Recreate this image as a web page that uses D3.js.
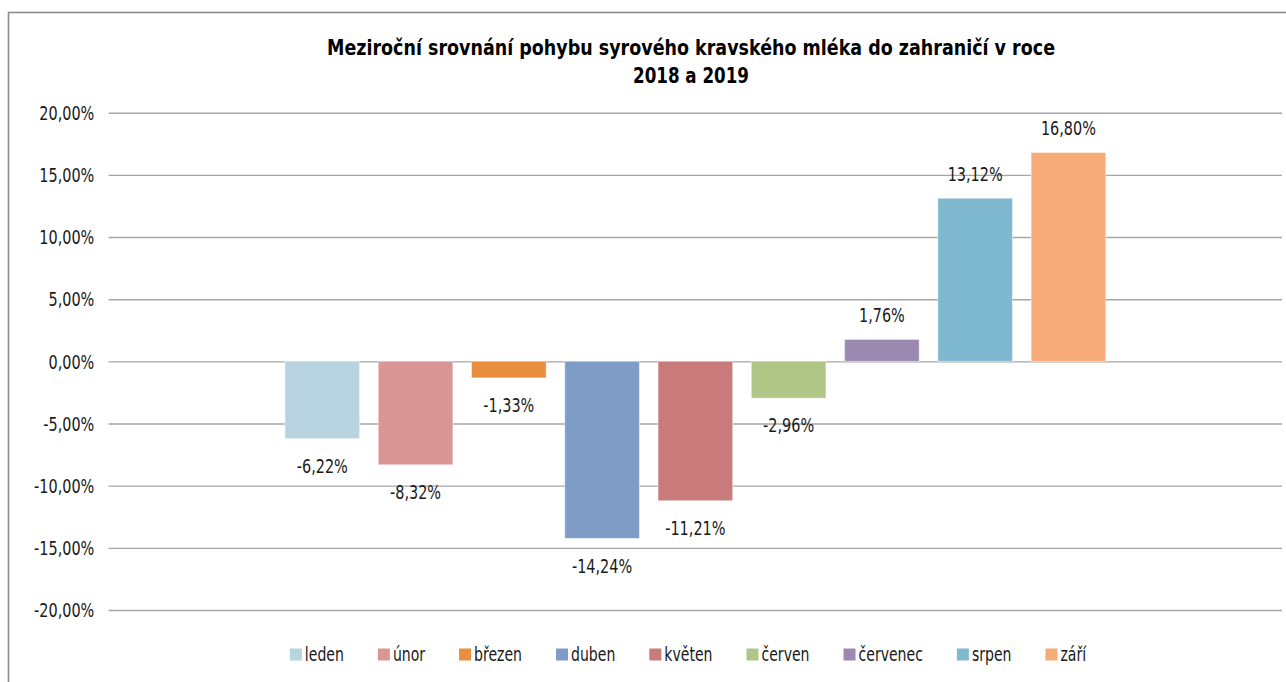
<!DOCTYPE html>
<html>
<head>
<meta charset="utf-8">
<script src="https://cdn.jsdelivr.net/npm/d3@7"></script>
<style>
	body { margin: 0; background: #fff; }
	svg { display: block; }
	.chart text { font-family: "DejaVu Sans", sans-serif; fill: #1a1a1a; }
</style>
</head>
<body>
<div id="chart"></div>
<script>
// meziroční srovnání - data
const months = ['leden', 'únor', 'březen', 'duben', 'květen', 'červen', 'červenec', 'srpen', 'září'];
const values = [-6.22, -8.32, -1.33, -14.24, -11.21, -2.96, 1.76, 13.12, 16.80];
const colors = ['#b7d4e0', '#da9694', '#e98d3f', '#7f9cc6', '#c87b7a', '#afc687', '#9c89b2', '#7eb9cf', '#f7ab78'];
const yTicks = [-20, -15, -10, -5, 0, 5, 10, 15, 20];
const titleLines = ['Meziroční srovnání pohybu syrového kravského mléka do zahraničí v roce', '2018 a 2019'];

const width = 1286, height = 682;
const m = {top: 112.7, bottom: 72, left: 108.7, right: 4};
const sx = 0.76; // horizontal squeeze of the narrow Excel-like font
const fontSize = '19px';

const svg = d3.select('#chart').append('svg')
	.attr('class', 'chart')
	.attr('width', width)
	.attr('height', height);

// outer chart border (right/bottom fall outside the picture)
svg.append('rect')
	.attr('x', 8.5).attr('y', 12.5)
	.attr('width', width + 20).attr('height', height + 20)
	.attr('fill', 'none')
	.attr('stroke', '#8c8c8c')
	.attr('stroke-width', 1.6);

const locale = d3.formatLocale({decimal: ',', thousands: ' ', grouping: [3], currency: ['', ''], minus: '-'});
const fmt = v => locale.format('.2f')(v) + '%';

const x = d3.scaleBand()
	.domain(months)
	.range([m.left, width - m.right])
	.paddingInner(0.2)
	.paddingOuter(1.89);

const y = d3.scaleLinear()
	.domain([-20, 20])
	.range([610, m.top]);

// title
const titleWidths = [728, 116];
svg.append('g').selectAll('text')
	.data(titleLines)
	.join('text')
		.attr('x', 691)
		.attr('y', (d, i) => 55 + i * 28)
		.attr('text-anchor', 'middle')
		.attr('textLength', (d, i) => titleWidths[i])
		.attr('lengthAdjust', 'spacingAndGlyphs')
		.style('font-weight', 'bold')
		.style('font-size', '22px')
		.style('fill', '#000')
		.text(d => d);

// y axis + grid
const yAxis = svg.append('g')
	.attr('transform', 'translate(' + m.left + ',0)')
	.call(d3.axisLeft(y)
		.tickValues(yTicks)
		.tickFormat(fmt)
		.tickSize(-(width - m.right - m.left)));
yAxis.select('.domain').remove();
yAxis.selectAll('line').attr('stroke', '#a6a6a6').attr('stroke-width', 1.4);
yAxis.selectAll('text')
	.attr('x', 0)
	.attr('dy', '0.35em')
	.attr('transform', 'translate(-14.4,0) scale(' + sx + ',1)')
	.style('font-size', fontSize);

// bars
svg.append('g').selectAll('rect')
	.data(values)
	.join('rect')
		.attr('x', (d, i) => x(months[i]))
		.attr('width', x.bandwidth())
		.attr('y', d => y(Math.max(0, d)))
		.attr('height', d => Math.abs(y(d) - y(0)))
		.attr('fill', (d, i) => colors[i])
		.attr('stroke', '#fff')
		.attr('stroke-opacity', 0.45)
		.attr('stroke-width', 1);

// value labels
svg.append('g').selectAll('text')
	.data(values)
	.join('text')
		.attr('transform', (d, i) => 'translate(' + (x(months[i]) + x.bandwidth() / 2) + ',' +
			(d >= 0 ? y(d) - 24 : y(d) + 27.5) + ') scale(' + sx + ',1)')
		.attr('dy', '0.35em')
		.attr('text-anchor', 'middle')
		.style('font-size', fontSize)
		.text(fmt);

// legend
const legend = svg.append('g').attr('class', 'legend');
const items = legend.selectAll('g')
	.data(months)
	.join('g');
items.append('rect')
	.attr('width', 12).attr('height', 12)
	.attr('y', -6)
	.attr('fill', (d, i) => colors[i]);
items.append('text')
	.attr('transform', 'translate(15,0) scale(' + 0.74 + ',1)')
	.attr('dy', '0.35em')
	.style('font-size', fontSize)
	.text(d => d);

let cursor = 0;
const gap = 34;
items.each(function() {
	const w = 15 + 0.74 * d3.select(this).select('text').node().getComputedTextLength();
	d3.select(this).attr('transform', 'translate(' + cursor + ',654.5)');
	cursor += w + gap;
});
const total = cursor - gap;
legend.attr('transform', 'translate(' + (688 - total / 2) + ',0)');
</script>
</body>
</html>
